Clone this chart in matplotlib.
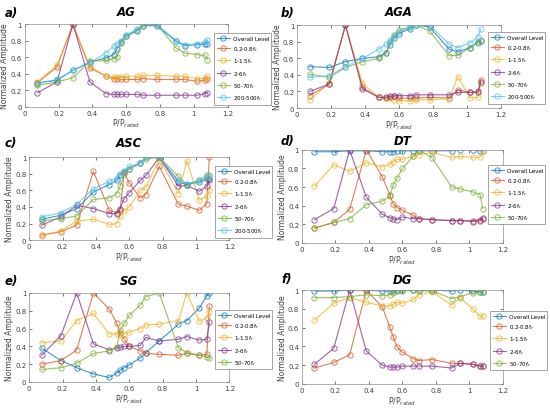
import matplotlib
matplotlib.use("Agg")
import matplotlib.pyplot as plt

# load ratio P/P_rated (same measurement points for every panel)
p_ratio = [0.075, 0.19, 0.285, 0.385, 0.48, 0.525, 0.545, 0.57, 0.6,
           0.665, 0.7, 0.78, 0.895, 0.945, 1.02, 1.065, 1.08]

labels6 = ['Overall Level', '0.2-0.8f$_r$', '1-1.5f$_r$', '2-6f$_r$',
           '50-70f$_r$', '200-500f$_r$']
labels5 = labels6[:5]

# a) AG
ag_overall = [0.29, 0.32, 0.44, 0.54, 0.59, 0.63, 0.70, 0.78, 0.85, 0.92, 0.98, 0.98, 0.79, 0.74, 0.75, 0.76, 0.76]
ag_b1 = [0.29, 0.48, 0.99, 0.47, 0.37, 0.34, 0.34, 0.33, 0.33, 0.33, 0.34, 0.33, 0.33, 0.33, 0.31, 0.32, 0.33]
ag_b2 = [0.30, 0.50, 1.00, 0.49, 0.37, 0.36, 0.36, 0.36, 0.37, 0.37, 0.38, 0.38, 0.37, 0.37, 0.34, 0.35, 0.37]
ag_b3 = [0.17, 0.30, 1.00, 0.30, 0.16, 0.15, 0.15, 0.15, 0.15, 0.15, 0.14, 0.14, 0.14, 0.14, 0.14, 0.16, 0.17]
ag_b4 = [0.26, 0.30, 0.35, 0.55, 0.56, 0.58, 0.60, 0.77, 0.85, 0.93, 0.98, 1.00, 0.71, 0.65, 0.63, 0.62, 0.57]
ag_b5 = [0.28, 0.33, 0.44, 0.53, 0.65, 0.73, 0.76, 0.80, 0.87, 0.94, 1.00, 1.00, 0.80, 0.75, 0.76, 0.78, 0.81]

# b) AGA
aga_overall = [0.50, 0.49, 0.56, 0.60, 0.62, 0.67, 0.76, 0.85, 0.90, 0.96, 1.00, 0.98, 0.71, 0.68, 0.73, 0.80, 0.81]
aga_b1 = [0.15, 0.29, 1.00, 0.25, 0.13, 0.12, 0.13, 0.14, 0.12, 0.12, 0.12, 0.13, 0.12, 0.22, 0.19, 0.20, 0.34]
aga_b2 = [0.10, 0.30, 1.00, 0.30, 0.13, 0.12, 0.12, 0.10, 0.09, 0.09, 0.10, 0.10, 0.11, 0.38, 0.12, 0.13, 0.30]
aga_b3 = [0.20, 0.29, 1.00, 0.23, 0.13, 0.13, 0.14, 0.15, 0.15, 0.15, 0.16, 0.16, 0.16, 0.19, 0.19, 0.19, 0.32]
aga_b4 = [0.41, 0.37, 0.49, 0.56, 0.60, 0.66, 0.80, 0.88, 0.94, 0.98, 1.00, 0.93, 0.63, 0.64, 0.73, 0.79, 0.82]
aga_b5 = [0.37, 0.39, 0.50, 0.60, 0.71, 0.77, 0.82, 0.87, 0.92, 0.98, 1.00, 1.00, 0.77, 0.73, 0.79, 0.86, 0.95]

# c) ASC
asc_overall = [0.25, 0.30, 0.38, 0.58, 0.67, 0.72, 0.78, 0.82, 0.86, 0.93, 1.00, 1.00, 0.70, 0.67, 0.70, 0.74, 0.74]
asc_b1 = [0.06, 0.10, 0.18, 0.83, 0.36, 0.33, 0.36, 0.82, 0.69, 0.51, 0.55, 0.89, 0.43, 0.41, 0.36, 0.44, 1.00]
asc_b2 = [0.05, 0.11, 0.23, 0.25, 0.19, 0.20, 0.29, 0.35, 0.40, 0.60, 0.64, 0.98, 0.56, 0.96, 0.48, 0.53, 0.60]
asc_b3 = [0.18, 0.28, 0.42, 0.38, 0.32, 0.32, 0.38, 0.50, 0.57, 0.72, 0.78, 1.00, 0.65, 0.66, 0.59, 0.65, 0.73]
asc_b4 = [0.23, 0.26, 0.29, 0.49, 0.51, 0.56, 0.65, 0.80, 0.86, 0.93, 0.98, 1.00, 0.77, 0.67, 0.72, 0.79, 0.77]
asc_b5 = [0.28, 0.33, 0.43, 0.62, 0.71, 0.75, 0.80, 0.84, 0.89, 0.93, 1.00, 1.00, 0.72, 0.68, 0.72, 0.76, 0.78]

# d) DT
dt_overall = [0.98, 0.98, 0.99, 0.99, 0.98, 0.98, 0.98, 0.99, 0.99, 0.99, 0.99, 0.99, 0.99, 1.00, 1.00, 0.99, 0.99]
dt_b1 = [0.16, 0.22, 0.36, 1.00, 0.71, 0.52, 0.42, 0.38, 0.35, 0.30, 0.26, 0.25, 0.24, 0.24, 0.24, 0.25, 0.26]
dt_b2 = [0.61, 0.84, 0.77, 0.86, 0.82, 0.85, 0.87, 0.90, 0.90, 0.93, 0.95, 0.97, 0.92, 0.93, 0.92, 0.92, 0.99]
dt_b3 = [0.25, 0.37, 1.00, 0.49, 0.31, 0.27, 0.26, 0.25, 0.28, 0.26, 0.26, 0.25, 0.24, 0.24, 0.23, 0.24, 0.27]
dt_b4 = [0.16, 0.22, 0.26, 0.41, 0.45, 0.50, 0.62, 0.70, 0.80, 0.93, 1.00, 0.91, 0.60, 0.58, 0.55, 0.52, 0.37]

# e) SG
sg_overall = [0.38, 0.24, 0.16, 0.09, 0.05, 0.10, 0.13, 0.16, 0.19, 0.27, 0.33, 0.46, 0.65, 0.69, 0.83, 0.97, 1.00]
sg_b1 = [0.20, 0.24, 0.36, 1.00, 0.82, 0.66, 0.55, 0.48, 0.40, 0.35, 0.32, 0.31, 0.30, 0.32, 0.30, 0.31, 0.85]
sg_b2 = [0.44, 0.46, 0.69, 0.77, 0.54, 0.54, 0.53, 0.54, 0.56, 0.60, 0.64, 0.65, 0.69, 1.00, 0.68, 0.72, 0.79]
sg_b3 = [0.30, 0.52, 1.00, 0.43, 0.36, 0.38, 0.39, 0.40, 0.40, 0.41, 0.50, 0.46, 0.48, 0.51, 0.47, 0.48, 0.67]
sg_b4 = [0.14, 0.16, 0.21, 0.32, 0.35, 0.39, 0.58, 0.66, 0.75, 0.86, 0.96, 1.00, 0.38, 0.33, 0.30, 0.28, 0.27]

# f) DG
dg_overall = [0.99, 0.99, 1.00, 1.00, 0.99, 0.99, 0.99, 1.00, 1.00, 1.00, 1.00, 1.00, 0.99, 1.00, 0.99, 0.98, 0.98]
dg_b1 = [0.17, 0.23, 0.31, 1.00, 0.82, 0.61, 0.50, 0.39, 0.34, 0.27, 0.25, 0.26, 0.22, 0.22, 0.21, 0.19, 0.19]
dg_b2 = [0.68, 0.86, 0.92, 0.87, 0.83, 0.83, 0.85, 0.87, 0.86, 0.90, 0.95, 0.98, 0.84, 0.92, 0.80, 0.72, 0.72]
dg_b3 = [0.21, 0.38, 1.00, 0.35, 0.20, 0.18, 0.18, 0.18, 0.19, 0.19, 0.19, 0.19, 0.17, 0.22, 0.21, 0.19, 0.19]
dg_b4 = [0.92, 0.92, 0.93, 0.95, 0.94, 0.95, 0.97, 0.99, 0.99, 1.00, 0.99, 0.99, 0.91, 0.93, 0.97, 0.98, 0.98]

colors = ['#0072BD', '#D95319', '#EDB120', '#7E2F8E', '#77AC30', '#4DBEEE']

# (tag, title, series, axes rect, legend upper-left in fig px, title y px)
panels = [
    ('a)', 'AG', [ag_overall, ag_b1, ag_b2, ag_b3, ag_b4, ag_b5],
     [0.045, 0.737, 0.369, 0.202], (214, 34), 13),
    ('b)', 'AGA', [aga_overall, aga_b1, aga_b2, aga_b3, aga_b4, aga_b5],
     [0.540, 0.734, 0.371, 0.202], (488, 33), 13),
    ('c)', 'ASC', [asc_overall, asc_b1, asc_b2, asc_b3, asc_b4, asc_b5],
     [0.053, 0.412, 0.364, 0.202], (215, 167), 144),
    ('d)', 'DT', [dt_overall, dt_b1, dt_b2, dt_b3, dt_b4],
     [0.549, 0.405, 0.365, 0.227], (488, 166), 142),
    ('e)', 'SG', [sg_overall, sg_b1, sg_b2, sg_b3, sg_b4],
     [0.053, 0.066, 0.364, 0.217], (215, 311), 282),
    ('f)', 'DG', [dg_overall, dg_b1, dg_b2, dg_b3, dg_b4],
     [0.549, 0.061, 0.365, 0.229], (490, 312), 280),
]

W, H = 550, 410
fig = plt.figure(figsize=(W / 100, H / 100), dpi=100)

for i, (tag, title, series, rect, leg_xy, ty) in enumerate(panels):
    ax = fig.add_axes(rect)
    labels = labels6 if len(series) == 6 else labels5
    for k, ys in enumerate(series):
        ax.plot(p_ratio, ys, color=colors[k], marker='o', mfc='none',
                markersize=3.8, linewidth=0.8, markeredgewidth=0.7,
                alpha=0.75, label=labels[k])
    ax.set_xlim(0, 1.2)
    ax.set_ylim(0, 1)
    ax.set_xticks([0, 0.2, 0.4, 0.6, 0.8, 1, 1.2])
    ax.set_xticklabels(['0', '0.2', '0.4', '0.6', '0.8', '1', '1.2'])
    ax.set_yticks([0, 0.2, 0.4, 0.6, 0.8, 1])
    ax.set_yticklabels(['0', '0.2', '0.4', '0.6', '0.8', '1'])
    ax.tick_params(direction='in', labelsize=5, length=2, width=0.5,
                   colors='#404040', pad=2, top=True, right=True)
    for s in ax.spines.values():
        s.set_linewidth(0.5)
        s.set_color('#909090')
    ax.set_xlabel('P/P$_{rated}$', fontsize=5.5, color='#404040', labelpad=1)
    ax.set_ylabel('Normalized Amplitude', fontsize=5.5, color='#404040', labelpad=1)

    lx, ly = leg_xy
    leg = ax.legend(loc='upper left', bbox_to_anchor=(lx / W, 1 - ly / H),
                    bbox_transform=fig.transFigure, fontsize=4.1,
                    frameon=True, fancybox=False, borderpad=0.45,
                    handlelength=2.3, handletextpad=0.5, labelspacing=0.6,
                    borderaxespad=0, framealpha=1)
    leg.get_frame().set_linewidth(0.5)
    leg.get_frame().set_edgecolor('#808080')
    leg.set_zorder(5)

    cx = rect[0] + rect[2] / 2
    fig.text(cx, 1 - ty / H, title, fontsize=8.5, fontweight='bold',
             fontstyle='italic', ha='center', va='center')
    px = 5 / W if i % 2 == 0 else 281 / W
    fig.text(px, 1 - ty / H, tag, fontsize=8.5, fontweight='bold',
             fontstyle='italic', ha='left', va='center')

fig.savefig('out.png', dpi=100)
